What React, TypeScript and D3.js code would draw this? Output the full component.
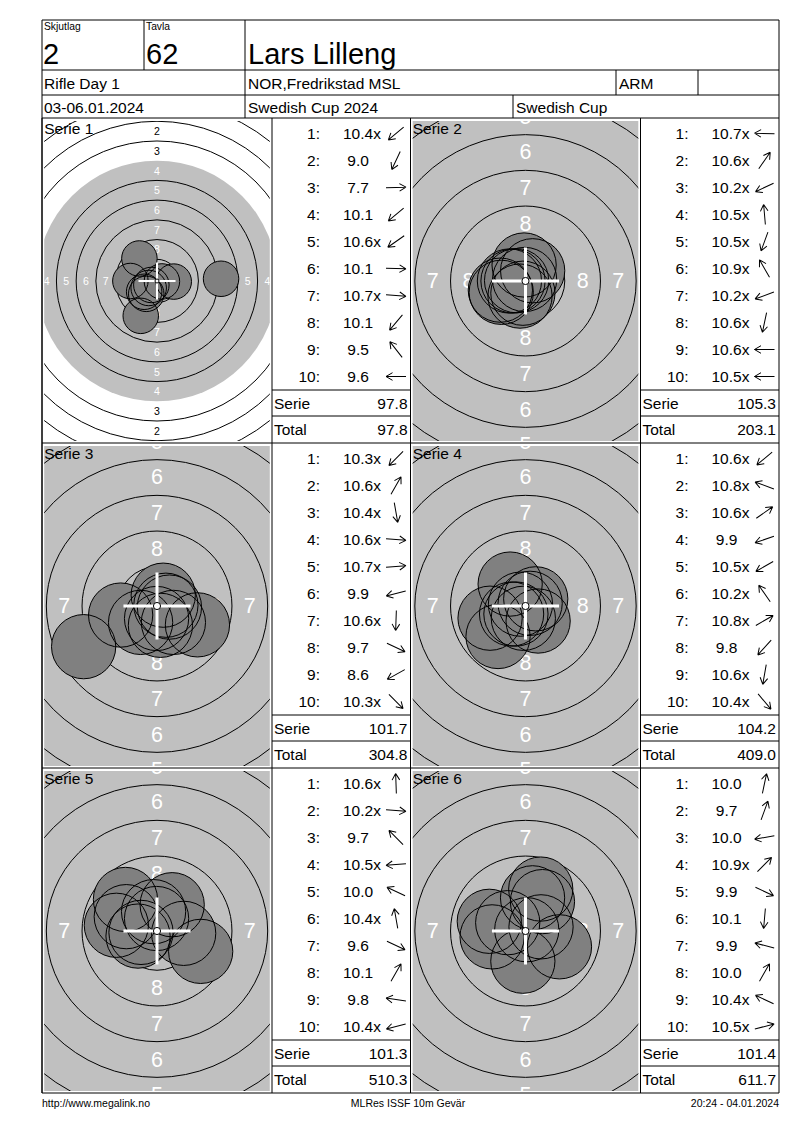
import React from 'react';
import * as d3 from 'd3';

// header fields
const relayLabel = 'Skjutlag';
const relayValue = '2';
const laneLabel = 'Tavla';
const laneValue = '62';
const shooterName = 'Lars Lilleng';
const eventName = 'Rifle Day 1';
const clubName = 'NOR,Fredrikstad MSL';
const classCode = 'ARM';
const eventDates = '03-06.01.2024';
const competition = 'Swedish Cup 2024';
const cupName = 'Swedish Cup';
const footerLeft = 'http://www.megalink.no';
const footerMid = 'MLRes ISSF 10m Gevär';
const footerRight = '20:24 - 04.01.2024';

const seriesNames = ['Serie 1', 'Serie 2', 'Serie 3', 'Serie 4', 'Serie 5', 'Serie 6'];

// shot values as printed on the card
const shotValues: string[][] = [
  ['10.4x', '9.0', '7.7', '10.1', '10.6x', '10.1', '10.7x', '10.1', '9.5', '9.6'],
  ['10.7x', '10.6x', '10.2x', '10.5x', '10.5x', '10.9x', '10.2x', '10.6x', '10.6x', '10.5x'],
  ['10.3x', '10.6x', '10.4x', '10.6x', '10.7x', '9.9', '10.6x', '9.7', '8.6', '10.3x'],
  ['10.6x', '10.8x', '10.6x', '9.9', '10.5x', '10.2x', '10.8x', '9.8', '10.6x', '10.4x'],
  ['10.6x', '10.2x', '9.7', '10.5x', '10.0', '10.4x', '9.6', '10.1', '9.8', '10.4x'],
  ['10.0', '9.7', '10.0', '10.9x', '9.9', '10.1', '9.9', '10.0', '10.4x', '10.5x'],
];

// direction of each shot from the centre, degrees counter-clockwise from 3 o'clock
const shotAngles: number[][] = [
  [220, 245, 2, 220, 215, 358, 355, 230, 128, 180],
  [178, 55, 205, 95, 250, 120, 200, 258, 180, 180],
  [225, 60, 280, 355, 5, 194, 268, 335, 209, 315],
  [220, 160, 35, 199, 210, 125, 30, 228, 260, 310],
  [92, 355, 135, 185, 155, 100, 335, 60, 172, 195],
  [78, 70, 190, 45, 335, 265, 165, 60, 155, 15],
];

const serieSums = ['97.8', '105.3', '101.7', '104.2', '101.3', '101.4'];
const runningTotals = ['97.8', '203.1', '304.8', '409.0', '510.3', '611.7'];

// half width of each target view, in mm
const viewRadiusMm = [14.3, 7.9, 7.9, 7.9, 7.9, 7.9];

const ringNumbers = [1, 2, 3, 4, 5, 6, 7, 8, 9];
const labelRings = [1, 2, 3, 4, 5, 6, 7, 8];

// ISSF 10m air rifle target, mm
const ringRadius = (ring: number) => 0.25 + (10 - ring) * 2.5;
const aimingMark = 15.25;
const pelletRadius = 2.25;
const crossArm = 2.35;

const FONT = '"Liberation Sans", Arial, sans-serif';
const GRAY = '#c0c0c0';
const SHOT = '#808080';

const LEFT = 42;
const RIGHT = 779;
const TOP = 20;
const PANEL_TOP = 118;
const PANEL_H = 325;
const TARGET_W = 230;
const HALF_W = (RIGHT - LEFT) / 2;

const labelSize = d3.scaleLinear().domain([7.85, 14.2]).range([10.5, 21.4]);

const shotDistance = (value: string) => Math.max(0, (10.95 - parseFloat(value)) * 2.5);

const Target = ({ x, y, idx }: { x: number; y: number; idx: number }) => {
  const ax = x + 2.2;
  const ay = y + 3;
  const aw = TARGET_W - 4.4;
  const ah = PANEL_H - 5;
  const cx = ax + aw / 2;
  const cy = ay + ah / 2;
  const k = aw / 2 / viewRadiusMm[idx];
  const sx = d3.scaleLinear().domain([0, 1]).range([cx, cx + k]);
  const sy = d3.scaleLinear().domain([0, 1]).range([cy, cy - k]);
  const clipId = `clip-${idx}`;
  const fs = labelSize(k);

  const shots = shotValues[idx].map((v, i) => {
    const d = shotDistance(v);
    const a = (shotAngles[idx][i] * Math.PI) / 180;
    return { px: sx(d * Math.cos(a)), py: sy(d * Math.sin(a)) };
  });

  // ring numbers on four sides; skip the ones that fall outside the view
  const labels: { ring: number; lx: number; ly: number }[] = [];
  labelRings.forEach((ring) => {
    const d = ringRadius(ring) - 1.25;
    labels.push({ ring, lx: sx(0), ly: sy(d) });
    labels.push({ ring, lx: sx(0), ly: sy(-d) });
    labels.push({ ring, lx: sx(-d), ly: sy(0) });
    labels.push({ ring, lx: sx(d), ly: sy(0) });
  });
  const visible = labels.filter(
    (l) => l.lx > ax - fs * 0.2 && l.lx < ax + aw + fs * 0.2 && l.ly > ay - fs * 0.3 && l.ly < ay + ah + fs * 0.3
  );

  return (
    <g>
      <defs>
        <clipPath id={clipId}>
          <rect x={ax} y={ay} width={aw} height={ah} />
        </clipPath>
      </defs>
      <g clipPath={`url(#${clipId})`}>
        <rect x={ax} y={ay} width={aw} height={ah} fill="#fff" />
        <circle cx={cx} cy={cy} r={aimingMark * k} fill={GRAY} />
        {ringNumbers
          .filter((r) => r !== 4)
          .map((r) => (
            <circle key={r} cx={cx} cy={cy} r={ringRadius(r) * k} fill="none" stroke="#000" strokeWidth={1} />
          ))}
        {visible.map((l, i) => (
          <text
            key={i}
            x={l.lx}
            y={l.ly}
            textAnchor="middle"
            dominantBaseline="central"
            fontSize={fs}
            fill={ringRadius(l.ring) - 1.25 < aimingMark ? '#fff' : '#000'}
          >
            {l.ring}
          </text>
        ))}
        {shots.map((s, i) => (
          <circle key={`f${i}`} cx={s.px} cy={s.py} r={pelletRadius * k} fill={SHOT} />
        ))}
        {shots.map((s, i) => (
          <circle key={`s${i}`} cx={s.px} cy={s.py} r={pelletRadius * k} fill="none" stroke="#000" strokeWidth={1} />
        ))}
        <line x1={sx(-crossArm)} x2={sx(crossArm)} y1={cy} y2={cy} stroke="#fff" strokeWidth={Math.max(2, 0.21 * k)} />
        <line x1={cx} x2={cx} y1={sy(crossArm)} y2={sy(-crossArm)} stroke="#fff" strokeWidth={Math.max(2, 0.21 * k)} />
        <circle cx={cx} cy={cy} r={Math.max(2, 0.25 * k)} fill="#fff" stroke="#000" strokeWidth={1} />
      </g>
      <text x={ax} y={y + 16} fontSize={15.5}>
        {seriesNames[idx]}
      </text>
    </g>
  );
};

const ScoreTable = ({ x, y, w, idx }: { x: number; y: number; w: number; idx: number }) => {
  const rows = d3.scaleBand<number>().domain(d3.range(10)).range([y + 2, y + 272]);
  const arrowPath = 'M-10,0H10M10,0L3.5,-3.8M10,0L3.5,3.8';
  return (
    <g fontSize={15.5}>
      {shotValues[idx].map((v, i) => {
        const ry = (rows(i) as number) + rows.bandwidth() / 2;
        return (
          <g key={i}>
            <text x={x + 48} y={ry} textAnchor="end" dominantBaseline="central">
              {`${i + 1}:`}
            </text>
            <text x={x + 71} y={ry} dominantBaseline="central" xmlSpace="preserve">
              {v.padStart(v.endsWith('x') ? 5 : 4, ' ')}
            </text>
            <path
              d={arrowPath}
              transform={`translate(${x + 124},${ry}) rotate(${-shotAngles[idx][i]})`}
              fill="none"
              stroke="#000"
              strokeWidth={1}
            />
          </g>
        );
      })}
      <line x1={x} x2={x + w} y1={y + 272} y2={y + 272} stroke="#000" />
      <line x1={x} x2={x + w} y1={y + 298} y2={y + 298} stroke="#000" />
      <text x={x + 2} y={y + 285} dominantBaseline="central">Serie</text>
      <text x={x + w - 3} y={y + 285} textAnchor="end" dominantBaseline="central">
        {serieSums[idx]}
      </text>
      <text x={x + 2} y={y + 311} dominantBaseline="central">Total</text>
      <text x={x + w - 3} y={y + 311} textAnchor="end" dominantBaseline="central">
        {runningTotals[idx]}
      </text>
    </g>
  );
};

export default function App() {
  const bottom = PANEL_TOP + PANEL_H * 3;
  const panelRows = d3.range(3).map((r) => PANEL_TOP + r * PANEL_H);
  const halves = [LEFT, LEFT + HALF_W];

  return (
    <div style={{ position: 'absolute', left: 0, top: 0 }}>
      <svg width={800} height={1130} fontFamily={FONT} style={{ display: 'block', background: '#fff' }}>
        <rect x={0} y={0} width={800} height={1130} fill="#fff" />

        {/* header */}
        <g stroke="#000" strokeWidth={1}>
          <line x1={LEFT} x2={RIGHT} y1={TOP} y2={TOP} />
          <line x1={LEFT} x2={RIGHT} y1={70} y2={70} />
          <line x1={LEFT} x2={RIGHT} y1={95} y2={95} />
          <line x1={144} x2={144} y1={TOP} y2={70} />
          <line x1={245} x2={245} y1={TOP} y2={PANEL_TOP} />
          <line x1={616} x2={616} y1={70} y2={95} />
          <line x1={698} x2={698} y1={70} y2={95} />
          <line x1={513} x2={513} y1={95} y2={PANEL_TOP} />
        </g>
        <text x={44} y={30} fontSize={10.3}>{relayLabel}</text>
        <text x={43} y={64} fontSize={29}>{relayValue}</text>
        <text x={146} y={30} fontSize={10.3}>{laneLabel}</text>
        <text x={146} y={64} fontSize={29}>{laneValue}</text>
        <text x={248} y={64} fontSize={29}>{shooterName}</text>
        <g fontSize={15.5}>
          <text x={44} y={89}>{eventName}</text>
          <text x={248} y={89}>{clubName}</text>
          <text x={619} y={89}>{classCode}</text>
          <text x={44} y={113}>{eventDates}</text>
          <text x={248} y={113}>{competition}</text>
          <text x={516} y={113}>{cupName}</text>
        </g>

        {/* panels */}
        {panelRows.map((py, r) =>
          halves.map((hx, c) => {
            const idx = r * 2 + c;
            return (
              <g key={idx}>
                <Target x={hx} y={py} idx={idx} />
                <ScoreTable x={hx + TARGET_W} y={py} w={HALF_W - TARGET_W} idx={idx} />
              </g>
            );
          })
        )}

        <g stroke="#000" strokeWidth={1} fill="none">
          {panelRows.map((py) => (
            <line key={py} x1={LEFT} x2={RIGHT} y1={py} y2={py} />
          ))}
          <line x1={LEFT} x2={RIGHT} y1={bottom} y2={bottom} />
          {halves.map((hx) => (
            <g key={hx}>
              <line x1={hx} x2={hx} y1={PANEL_TOP} y2={bottom} />
              <line x1={hx + TARGET_W} x2={hx + TARGET_W} y1={PANEL_TOP} y2={bottom} />
            </g>
          ))}
          <line x1={LEFT} x2={LEFT} y1={TOP} y2={bottom} />
          <line x1={RIGHT} x2={RIGHT} y1={TOP} y2={bottom} />
        </g>

        {/* footer */}
        <g fontSize={10.5}>
          <text x={LEFT} y={1107}>{footerLeft}</text>
          <text x={408} y={1107} textAnchor="middle">{footerMid}</text>
          <text x={RIGHT} y={1107} textAnchor="end">{footerRight}</text>
        </g>
      </svg>
    </div>
  );
}
